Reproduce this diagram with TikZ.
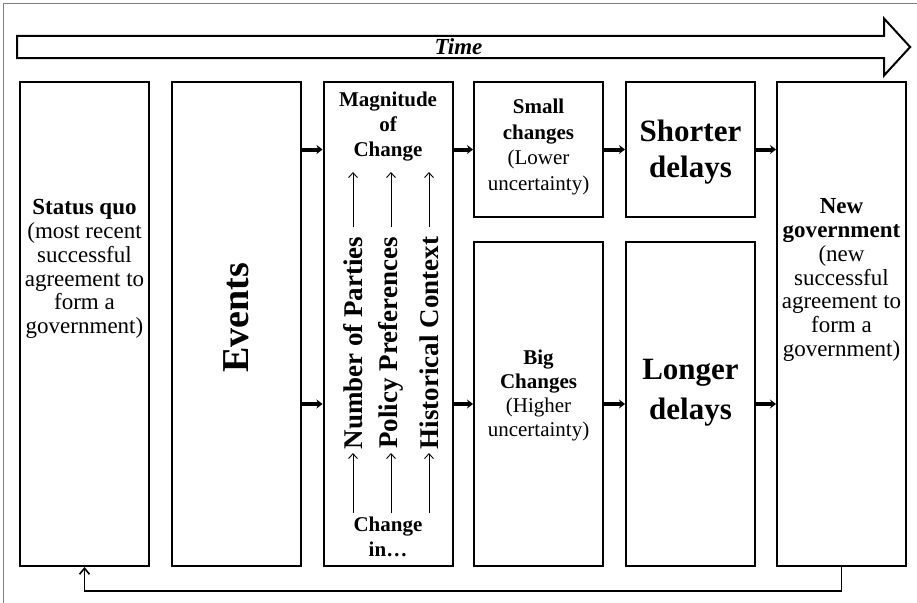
\documentclass[tikz,border=0pt]{standalone}
\usepackage{fontspec}
\setmainfont{Liberation Serif}
\usetikzlibrary{arrows.meta,shapes.arrows}
\tikzset{
  BoxStyle/.style = { rectangle, draw, line width = 2pt,
                      minimum width = 129pt, inner sep = 0pt },
  TextStyle/.style = { align = center, inner sep = 0pt,
                       font = \fontsize{23}{23.8}\selectfont },
  FlowStyle/.style = { line width = 4pt, -{Stealth[length=6pt,width=9pt]} },
  CauseStyle/.style = { line width = 0.9pt, -{Straight Barb[length=5pt,width=9pt]} },
  BackStyle/.style = { line width = 1.6pt, -{Straight Barb[length=6pt,width=10pt]} } }

\begin{document}
\begin{tikzpicture}[x=1pt,y=-1pt]
  \useasboundingbox (0,0) rectangle (917,602);
  \draw[gray, line width=1pt] (3.5,3.5) rectangle (925,610);

  % time arrow
  \node[single arrow, draw, line width=2pt, minimum height=893pt,
        minimum width=57pt, single arrow head extend=14pt,
        single arrow tip angle=95, inner sep=0pt,
        font=\fontsize{23}{24}\selectfont\bfseries\itshape] (time) at (458.5,47) {Time};

  % boxes
  \node[BoxStyle, minimum height=484pt] (quo) at (84.5,324) {};
  \node[BoxStyle, minimum height=484pt] (events) at (236.5,324) {};
  \node[BoxStyle, minimum height=484pt] (magn) at (388,324) {};
  \node[BoxStyle, minimum height=135pt] (small) at (538.5,149.5) {};
  \node[BoxStyle, minimum height=135pt] (short) at (690.5,149.5) {};
  \node[BoxStyle, minimum height=324pt] (big) at (538.5,404) {};
  \node[BoxStyle, minimum height=324pt] (long) at (690.5,404) {};
  \node[BoxStyle, minimum height=484pt] (newgov) at (841.5,324) {};

  % texts
  \node[TextStyle] (quotext) at (84.5,269)
    {\textbf{Status quo}\\(most recent\\successful\\agreement to\\form a\\government)};
  \node[TextStyle, rotate=90, font=\fontsize{38}{40}\selectfont\bfseries] (eventstext) at (236.5,318) {Events};
  \node[TextStyle, font=\fontsize{21}{25}\selectfont\bfseries] (magntext) at (388,127) {Magnitude\\of\\Change};
  \node[TextStyle, font=\fontsize{21}{25}\selectfont\bfseries] (intext) at (388,537) {Change\\in\dots};
  \node[TextStyle, rotate=90, font=\fontsize{27}{30}\selectfont\bfseries] (parties) at (353,343) {Number of Parties};
  \node[TextStyle, rotate=90, font=\fontsize{27}{30}\selectfont\bfseries] (prefs) at (391,343) {Policy Preferences};
  \node[TextStyle, rotate=90, font=\fontsize{27}{30}\selectfont\bfseries] (context) at (429,343) {Historical Context};
  \node[TextStyle, font=\fontsize{21}{25.5}\selectfont] (smalltext) at (538.5,147)
    {\textbf{Small}\\\textbf{changes}\\(Lower\\uncertainty)};
  \node[TextStyle, font=\fontsize{31}{36}\selectfont\bfseries] (shorttext) at (690.5,152) {Shorter\\delays};
  \node[TextStyle, font=\fontsize{21}{24}\selectfont] (bigtext) at (538.5,395)
    {\textbf{Big}\\\textbf{Changes}\\(Higher\\uncertainty)};
  \node[TextStyle, font=\fontsize{31}{40}\selectfont\bfseries] (longtext) at (690.5,393) {Longer\\delays};
  \node[TextStyle] (newgovtext) at (841.5,280)
    {\textbf{New}\\\textbf{government}\\(new\\successful\\agreement to\\form a\\government)};

  % causes inside the magnitude box
  \foreach \n/\x in {parties/353,prefs/391,context/429}{
    \draw[CauseStyle] (\x,227) -- (\x,172);
    \draw[CauseStyle] (\x,513) -- (\x,453);
  }

  % flow
  \draw[FlowStyle] (events.east |- small.east) -- (magn.west |- small.west);
  \draw[FlowStyle] (events.east |- big.east) -- (magn.west |- big.west);
  \draw[FlowStyle] (magn.east |- small.east) -- (small.west);
  \draw[FlowStyle] (magn.east |- big.east) -- (big.west);
  \draw[FlowStyle] (small) -- (short);
  \draw[FlowStyle] (big) -- (long);
  \draw[FlowStyle] (short.east) -- (newgov.west |- short.east);
  \draw[FlowStyle] (long.east) -- (newgov.west |- long.east);

  % back to the status quo
  \draw[BackStyle] (newgov.south) -- ++(0,24) -| (quo.south);
\end{tikzpicture}
\end{document}
